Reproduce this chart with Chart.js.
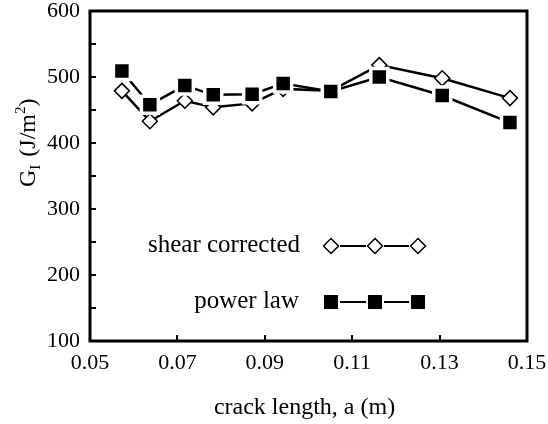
<!DOCTYPE html>
<html lang="en">
<head>
  <meta charset="UTF-8">
  <title>G_I vs crack length</title>
  <script src="https://cdn.jsdelivr.net/npm/chart.js"></script>
  <style>
    * {
      margin: 0;
      padding: 0;
    }

    body {
      background: white;
    }

    #chart {
      display: block;
    }
  </style>
</head>
<body>
  <canvas id="chart" width="548" height="424"></canvas>

  <script>
    // crack length a (m)
    const crackLength = [0.0573, 0.0637, 0.0717, 0.0782, 0.0871, 0.0942, 0.1051, 0.1162, 0.1306, 0.1461];
    // G_I (J/m^2)
    const powerLaw = [509, 458, 487, 473, 474, 490, 478, 500, 472, 431];
    const shearCorrected = [479, 433, 464, 454, 460, 482, 479, 518, 498, 468];

    const xTickMarks = [0.07, 0.09, 0.11, 0.13];
    const yTickMarks = [150, 200, 250, 300, 350, 400, 450, 500, 550];

    const serif = "'Liberation Serif', 'Times New Roman', serif";

    function toPoints(ys) {
      return crackLength.map((x, i) => ({ x: x, y: ys[i] }));
    }

    // frame + inward ticks
    const framePlugin = {
      id: 'frame',
      afterDatasetsDraw(chart) {
        const ctx = chart.ctx;
        const a = chart.chartArea;
        const xs = chart.scales.x;
        const ys = chart.scales.y;
        ctx.save();
        ctx.strokeStyle = '#000';
        ctx.lineWidth = 2;
        yTickMarks.forEach(v => {
          const py = Math.round(ys.getPixelForValue(v));
          ctx.beginPath();
          ctx.moveTo(a.left, py);
          ctx.lineTo(a.left + 6, py);
          ctx.stroke();
        });
        xTickMarks.forEach(v => {
          const px = Math.round(xs.getPixelForValue(v));
          ctx.beginPath();
          ctx.moveTo(px, a.bottom);
          ctx.lineTo(px, a.bottom - 6);
          ctx.stroke();
        });
        ctx.lineWidth = 3;
        ctx.strokeRect(a.left, a.top, a.right - a.left, a.bottom - a.top);
        ctx.restore();
      }
    };

    function diamond(ctx, x, y, r) {
      ctx.beginPath();
      ctx.moveTo(x, y - r);
      ctx.lineTo(x + r, y);
      ctx.lineTo(x, y + r);
      ctx.lineTo(x - r, y);
      ctx.closePath();
      ctx.fillStyle = '#fff';
      ctx.fill();
      ctx.lineWidth = 1.5;
      ctx.strokeStyle = '#000';
      ctx.stroke();
    }

    // titles and the in-plot legend
    const textPlugin = {
      id: 'texts',
      afterDraw(chart) {
        const ctx = chart.ctx;
        const a = chart.chartArea;
        ctx.save();
        ctx.fillStyle = '#000';

        // x title
        ctx.font = '24px ' + serif;
        ctx.textAlign = 'center';
        ctx.textBaseline = 'alphabetic';
        ctx.fillText('crack length, a (m)', (a.left + a.right) / 2 - 4, 414);

        // y title, rotated
        ctx.save();
        ctx.translate(35, 187);
        ctx.rotate(-Math.PI / 2);
        ctx.textAlign = 'left';
        let x = 0;
        ctx.font = '24px ' + serif;
        ctx.fillText('G', x, 0);
        x += ctx.measureText('G').width;
        ctx.font = '15px ' + serif;
        ctx.fillText('I', x, 5);
        x += ctx.measureText('I').width + 2;
        ctx.font = '24px ' + serif;
        ctx.fillText(' (J/m', x, 0);
        x += ctx.measureText(' (J/m').width;
        ctx.font = '15px ' + serif;
        ctx.fillText('2', x, -10);
        x += ctx.measureText('2').width;
        ctx.font = '24px ' + serif;
        ctx.fillText(')', x, 0);
        ctx.restore();

        // legend
        ctx.font = '25px ' + serif;
        ctx.textAlign = 'right';
        ctx.fillText('shear corrected', 300, 252);
        ctx.fillText('power law', 299, 308);

        const lx = [331, 375, 418];
        ctx.strokeStyle = '#000';
        ctx.lineWidth = 2;
        [246, 302].forEach(ly => {
          ctx.beginPath();
          ctx.moveTo(lx[0] + 9, ly);
          ctx.lineTo(lx[1] - 9, ly);
          ctx.moveTo(lx[1] + 9, ly);
          ctx.lineTo(lx[2] - 9, ly);
          ctx.stroke();
        });
        lx.forEach(px => {
          diamond(ctx, px, 246, 7.5);
          ctx.fillStyle = '#000';
          ctx.fillRect(px - 7, 302 - 7, 14, 14);
        });
        ctx.restore();
      }
    };

    new Chart(document.getElementById('chart'), {
      type: 'scatter',
      data: {
        datasets: [
          {
            label: 'power law',
            data: toPoints(powerLaw),
            showLine: true,
            tension: 0,
            borderColor: '#000',
            borderWidth: 2.5,
            pointStyle: 'rect',
            pointRadius: 12,
            pointBackgroundColor: '#000',
            pointBorderColor: '#fff',
            pointBorderWidth: 3.5
          },
          {
            label: 'shear corrected',
            data: toPoints(shearCorrected),
            showLine: true,
            tension: 0,
            borderColor: '#000',
            borderWidth: 2.5,
            pointStyle: 'rectRot',
            pointRadius: 7.5,
            pointBackgroundColor: '#fff',
            pointBorderColor: '#000',
            pointBorderWidth: 1.5
          }
        ]
      },
      options: {
        responsive: false,
        animation: false,
        layout: {
          autoPadding: false,
          padding: { left: 0, top: 11, right: 21, bottom: 0 }
        },
        plugins: {
          legend: { display: false },
          tooltip: { enabled: false }
        },
        scales: {
          x: {
            type: 'linear',
            min: 0.05,
            max: 0.15,
            grid: { display: false, drawTicks: false },
            border: { display: false },
            ticks: {
              stepSize: 0.02,
              padding: 9,
              color: '#000',
              font: { family: serif, size: 22 },
              callback: v => v.toFixed(2)
            },
            afterFit: s => {
              s.height = 83;
              s.paddingLeft = 0;
              s.paddingRight = 0;
            }
          },
          y: {
            min: 100,
            max: 600,
            grid: { display: false, drawTicks: false },
            border: { display: false },
            ticks: {
              stepSize: 100,
              padding: 10,
              color: '#000',
              font: { family: serif, size: 22 }
            },
            afterFit: s => {
              s.width = 90;
              s.paddingTop = 0;
              s.paddingBottom = 0;
            }
          }
        }
      },
      plugins: [framePlugin, textPlugin]
    });
  </script>
</body>
</html>
